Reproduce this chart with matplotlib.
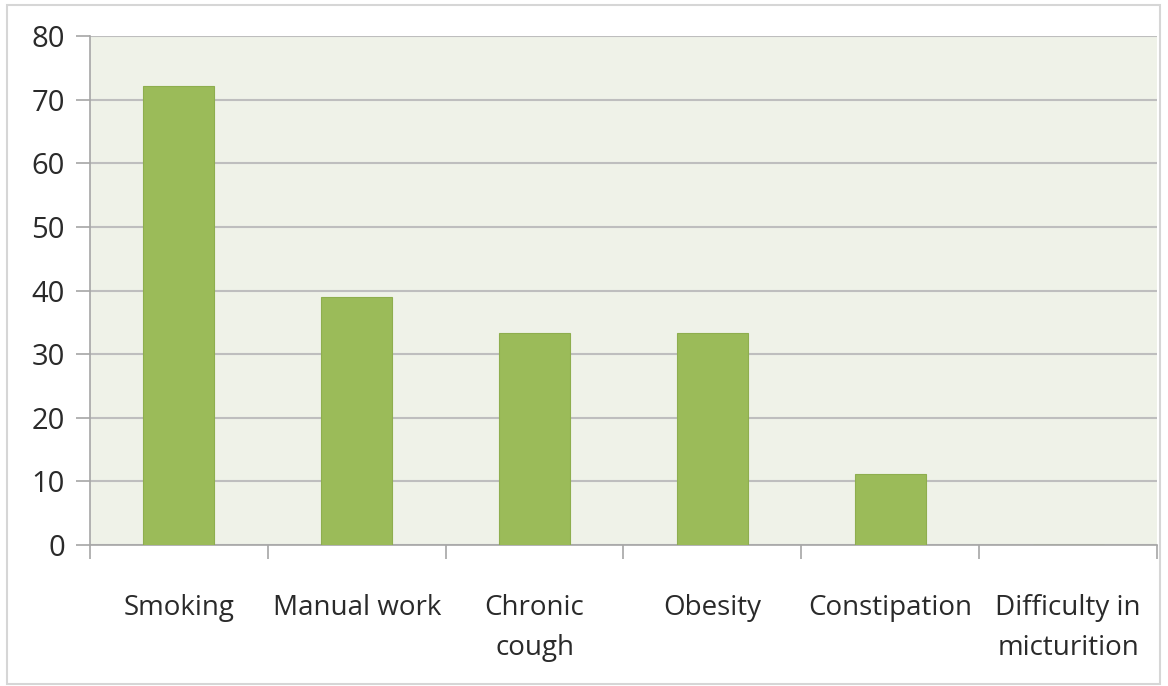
import numpy as np
import matplotlib.pyplot as plt
from matplotlib.patches import Rectangle

categories = ['Smoking', 'Manual work', 'Chronic\ncough', 'Obesity',
              'Constipation', 'Difficulty in\nmicturition']
values = [72.2, 38.9, 33.3, 33.3, 11.1, 0]
y_ticks = [0, 10, 20, 30, 40, 50, 60, 70, 80]

plt.rcParams['font.family'] = ['Open Sans', 'DejaVu Sans']

fig = plt.figure(figsize=(11.68, 6.86), dpi=100)
ax = fig.add_axes([90 / 1168, 141 / 686, 1067 / 1168, 509 / 686])

# outer frame of the chart
fig.patches.append(Rectangle((7 / 1168, 2 / 686), 1153 / 1168, 679 / 686,
                             transform=fig.transFigure, fill=False,
                             edgecolor='#D6D6D6', linewidth=1.5))

ax.set_facecolor('#EFF2E8')
x = np.arange(len(categories))
ax.bar(x, values, width=0.4, color='#9BBB59', edgecolor='#8EAE4E',
       linewidth=0.8, zorder=3)

ax.set_xlim(-0.5, len(categories) - 0.5)
ax.set_ylim(0, 80)
ax.set_yticks(y_ticks)
ax.yaxis.grid(True, color='#BEBEBE', linewidth=1.5, zorder=0)

ax.set_xticks(x)
ax.set_xticklabels(categories, fontsize=20, color='#2A2A2A', linespacing=1.6)
ax.set_xticks(np.arange(-0.5, len(categories)), minor=True)
ax.tick_params(axis='x', which='major', length=0, pad=35)
ax.tick_params(axis='x', which='minor', length=10, width=1.2, color='#A6A6A6')
ax.tick_params(axis='y', length=10, width=1.2, color='#A6A6A6',
               labelsize=21, labelcolor='#2A2A2A', pad=8)

for side in ['top', 'right']:
    ax.spines[side].set_visible(False)
for side in ['left', 'bottom']:
    ax.spines[side].set_color('#A6A6A6')
    ax.spines[side].set_linewidth(1.2)

for lab in ax.get_xticklabels():
    lab.set_verticalalignment('top')

fig.savefig('out.png', dpi=100)
